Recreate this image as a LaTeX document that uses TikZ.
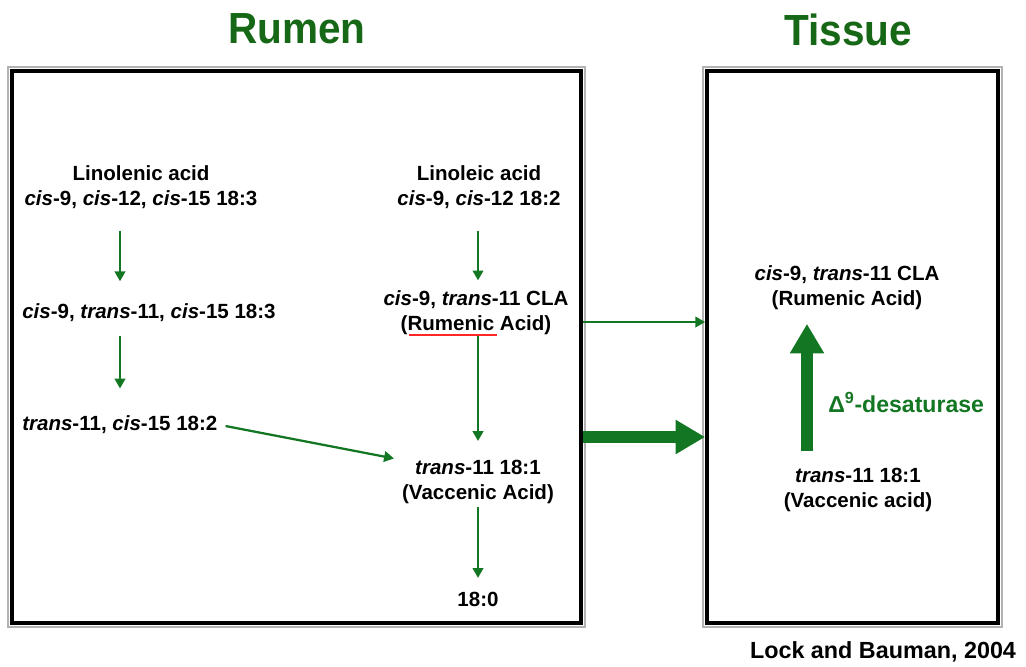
\documentclass[tikz,border=0pt]{standalone}
\usepackage{graphicx}
\usepackage{fontspec}
\setmainfont{Liberation Sans}
\usetikzlibrary{arrows.meta}
\definecolor{titlegreen}{RGB}{22,104,22}
\definecolor{arrowgreen}{RGB}{18,118,34}

\begin{document}
\begin{tikzpicture}[x=0.025cm, y=-0.025cm,
    txt/.style={font=\bfseries\fontsize{14.6}{17.7}\selectfont, align=center, inner sep=0pt},
    title/.style={font=\bfseries\fontsize{31}{36}\selectfont, text=titlegreen, inner sep=0pt},
    panel/.style={draw=black, line width=2.6pt, minimum height=13.8cm, inner sep=0pt},
    thinarrow/.style={draw=arrowgreen, line width=1.6pt, -{Triangle[length=7pt, width=7.5pt]}},
    fatarrow/.style={draw=arrowgreen, line width=8pt, -{Triangle[length=21pt, width=23pt]}}]
  \useasboundingbox (0,0) rectangle (1026,666);

  % titles
  \node[title] (rtitle) at (297,29) {\scalebox{0.93}[1]{Rumen}};
  \node[title] (ttitle) at (848,30) {\scalebox{0.93}[1]{Tissue}};

  % the two panels
  \node[panel, minimum width=14.225cm] (rbox) at (296.5,347) {};
  \node[panel, minimum width=7.275cm] (tbox) at (852.5,347) {};
  \draw[gray!60, line width=1.5pt] ([shift={(-2.4,-2.4)}]rbox.north west) rectangle ([shift={(2.4,2.4)}]rbox.south east);
  \draw[gray!60, line width=1.5pt] ([shift={(-2.4,-2.4)}]tbox.north west) rectangle ([shift={(2.4,2.4)}]tbox.south east);

  % rumen, left column
  \node[txt] (lnln) at (141,187) {Linolenic acid\\\textit{cis}-9, \textit{cis}-12, \textit{cis}-15 18:3};
  \node[txt, anchor=west] (ct1) at (22,312.5) {\textit{cis}-9, \textit{trans}-11, \textit{cis}-15 18:3};
  \node[txt, anchor=west] (tc) at (22,424.5) {\textit{trans}-11, \textit{cis}-15 18:2};

  % rumen, right column
  \node[txt] (lnle) at (479,187.5) {Linoleic acid\\\textit{cis}-9, \textit{cis}-12 18:2};
  \node[txt] (rcla) at (476,312.5) {\textit{cis}-9, \textit{trans}-11 CLA\\(Rumenic Acid)};
  \node[txt] (va) at (478,482) {\textit{trans}-11 18:1\\(Vaccenic Acid)};
  \node[txt] (sa) at (478,599.5) {18:0};
  \draw[red!85, line width=0.8pt] (409,335) -- (497,335);

  % tissue
  \node[txt] (trc) at (847,287.5) {\textit{cis}-9, \textit{trans}-11 CLA\\(Rumenic Acid)};
  \node[txt] (tva) at (858,490) {\textit{trans}-11 18:1\\(Vaccenic acid)};
  \node[txt, font=\bfseries\fontsize{16.4}{19}\selectfont, text=arrowgreen, anchor=west] (des) at (828,402.5) {Δ\textsuperscript{9}-desaturase};

  \node[txt, font=\bfseries\fontsize{16.6}{20}\selectfont] (cite) at (883,652) {Lock and Bauman, 2004};

  \coordinate (colA) at (120,0);
  \coordinate (colB) at (478,0);
  \coordinate (colD) at (807,0);
  \coordinate (thinY) at (0,322);
  \coordinate (fatY) at (0,437);

  \draw[thinarrow, shorten <=15.6pt, shorten >=15.6pt] (lnln.south -| colA) -- (ct1.north -| colA);
  \draw[thinarrow, shorten <=10pt, shorten >=19pt] (ct1.south -| colA) -- (tc.north -| colA);
  \draw[thinarrow, shorten <=15.6pt, shorten >=7pt] (lnle.south -| colB) -- (rcla.north -| colB);
  \draw[thinarrow, shorten <=1pt, shorten >=13.5pt] (rcla.south -| colB) -- (va.north -| colB);
  \draw[thinarrow, shorten <=2pt, shorten >=10pt] (va.south -| colB) -- (sa.north -| colB);
  \draw[thinarrow, shorten <=5.7pt, shorten >=5.7pt] (tc.east) -- (va.north west);

  \draw[thinarrow] (rbox.east |- thinY) -- (tbox.west |- thinY);
  \draw[fatarrow] (rbox.east |- fatY) -- (tbox.west |- fatY);

  \draw[fatarrow, shorten <=12pt, shorten >=10pt] (tva.north -| colD) -- (trc.south -| colD);
\end{tikzpicture}
\end{document}
